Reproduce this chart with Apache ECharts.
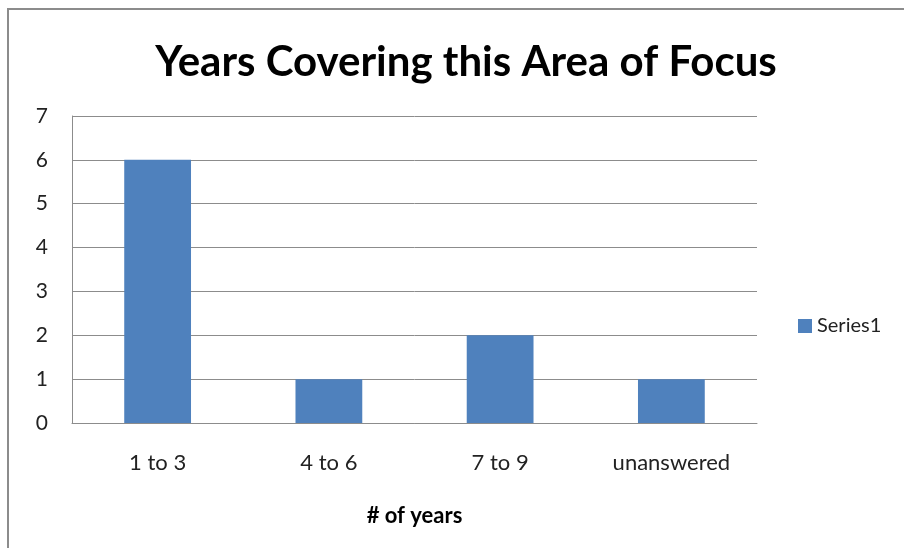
<!DOCTYPE html>
<html>
<head>
<meta charset="utf-8">
<style>
  html, body { margin: 0; padding: 0; background: #fff; }
  #chart { width: 904px; height: 548px; }
</style>
<script src="https://cdn.jsdelivr.net/npm/echarts@6/dist/echarts.min.js"></script>
</head>
<body>
<div id="chart"></div>
<script>
// Respondent counts by years spent covering the area of focus
const categories = ['1 to 3', '4 to 6', '7 to 9', 'unanswered'];
const series1 = [6, 1, 2, 1];
const yTicks = [0, 1, 2, 3, 4, 5, 6, 7];

const chart = echarts.init(document.getElementById('chart'), null, { renderer: 'canvas' });

const fontFamily = 'Lato, "Open Sans", "Liberation Sans", sans-serif';

chart.setOption({
  animation: false,
  backgroundColor: '#ffffff',
  graphic: [{
    type: 'rect',
    shape: { x: 8, y: 9, width: 1000, height: 1000 },
    style: { fill: 'none', stroke: '#8c8c8c', lineWidth: 2 },
    silent: true
  }],
  title: {
    text: 'Years Covering this Area of Focus',
    left: 461,
    top: 36,
    textAlign: 'center',
    textStyle: { fontFamily: fontFamily, fontSize: 42, fontWeight: 'bold', color: '#000' }
  },
  legend: {
    data: ['Series1'],
    orient: 'vertical',
    left: 793,
    top: 311,
    itemWidth: 14,
    itemHeight: 14,
    itemGap: 6,
    icon: 'rect',
    textStyle: { fontFamily: fontFamily, fontSize: 20, color: '#222' }
  },
  grid: { left: 72, top: 116, right: 147, bottom: 125, containLabel: false },
  xAxis: {
    type: 'category',
    data: categories,
    name: '# of years',
    nameLocation: 'middle',
    nameGap: 82,
    nameTextStyle: { fontFamily: fontFamily, fontSize: 22, fontWeight: 'bold', color: '#000' },
    axisLine: { lineStyle: { color: '#8c8c8c', width: 1 } },
    axisTick: { show: false },
    axisLabel: { margin: 29, fontFamily: fontFamily, fontSize: 22, color: '#222' }
  },
  yAxis: {
    type: 'value',
    min: 0,
    max: yTicks[yTicks.length - 1],
    interval: 1,
    axisLine: { show: true, lineStyle: { color: '#8c8c8c', width: 1 } },
    axisTick: { show: false },
    axisLabel: { margin: 24, fontFamily: fontFamily, fontSize: 21, color: '#222' },
    splitLine: { show: true, lineStyle: { color: '#8c8c8c', width: 1 } }
  },
  series: [{
    name: 'Series1',
    type: 'bar',
    data: series1,
    barWidth: '39%',
    itemStyle: { color: '#4f81bd' }
  }]
});
</script>
</body>
</html>
